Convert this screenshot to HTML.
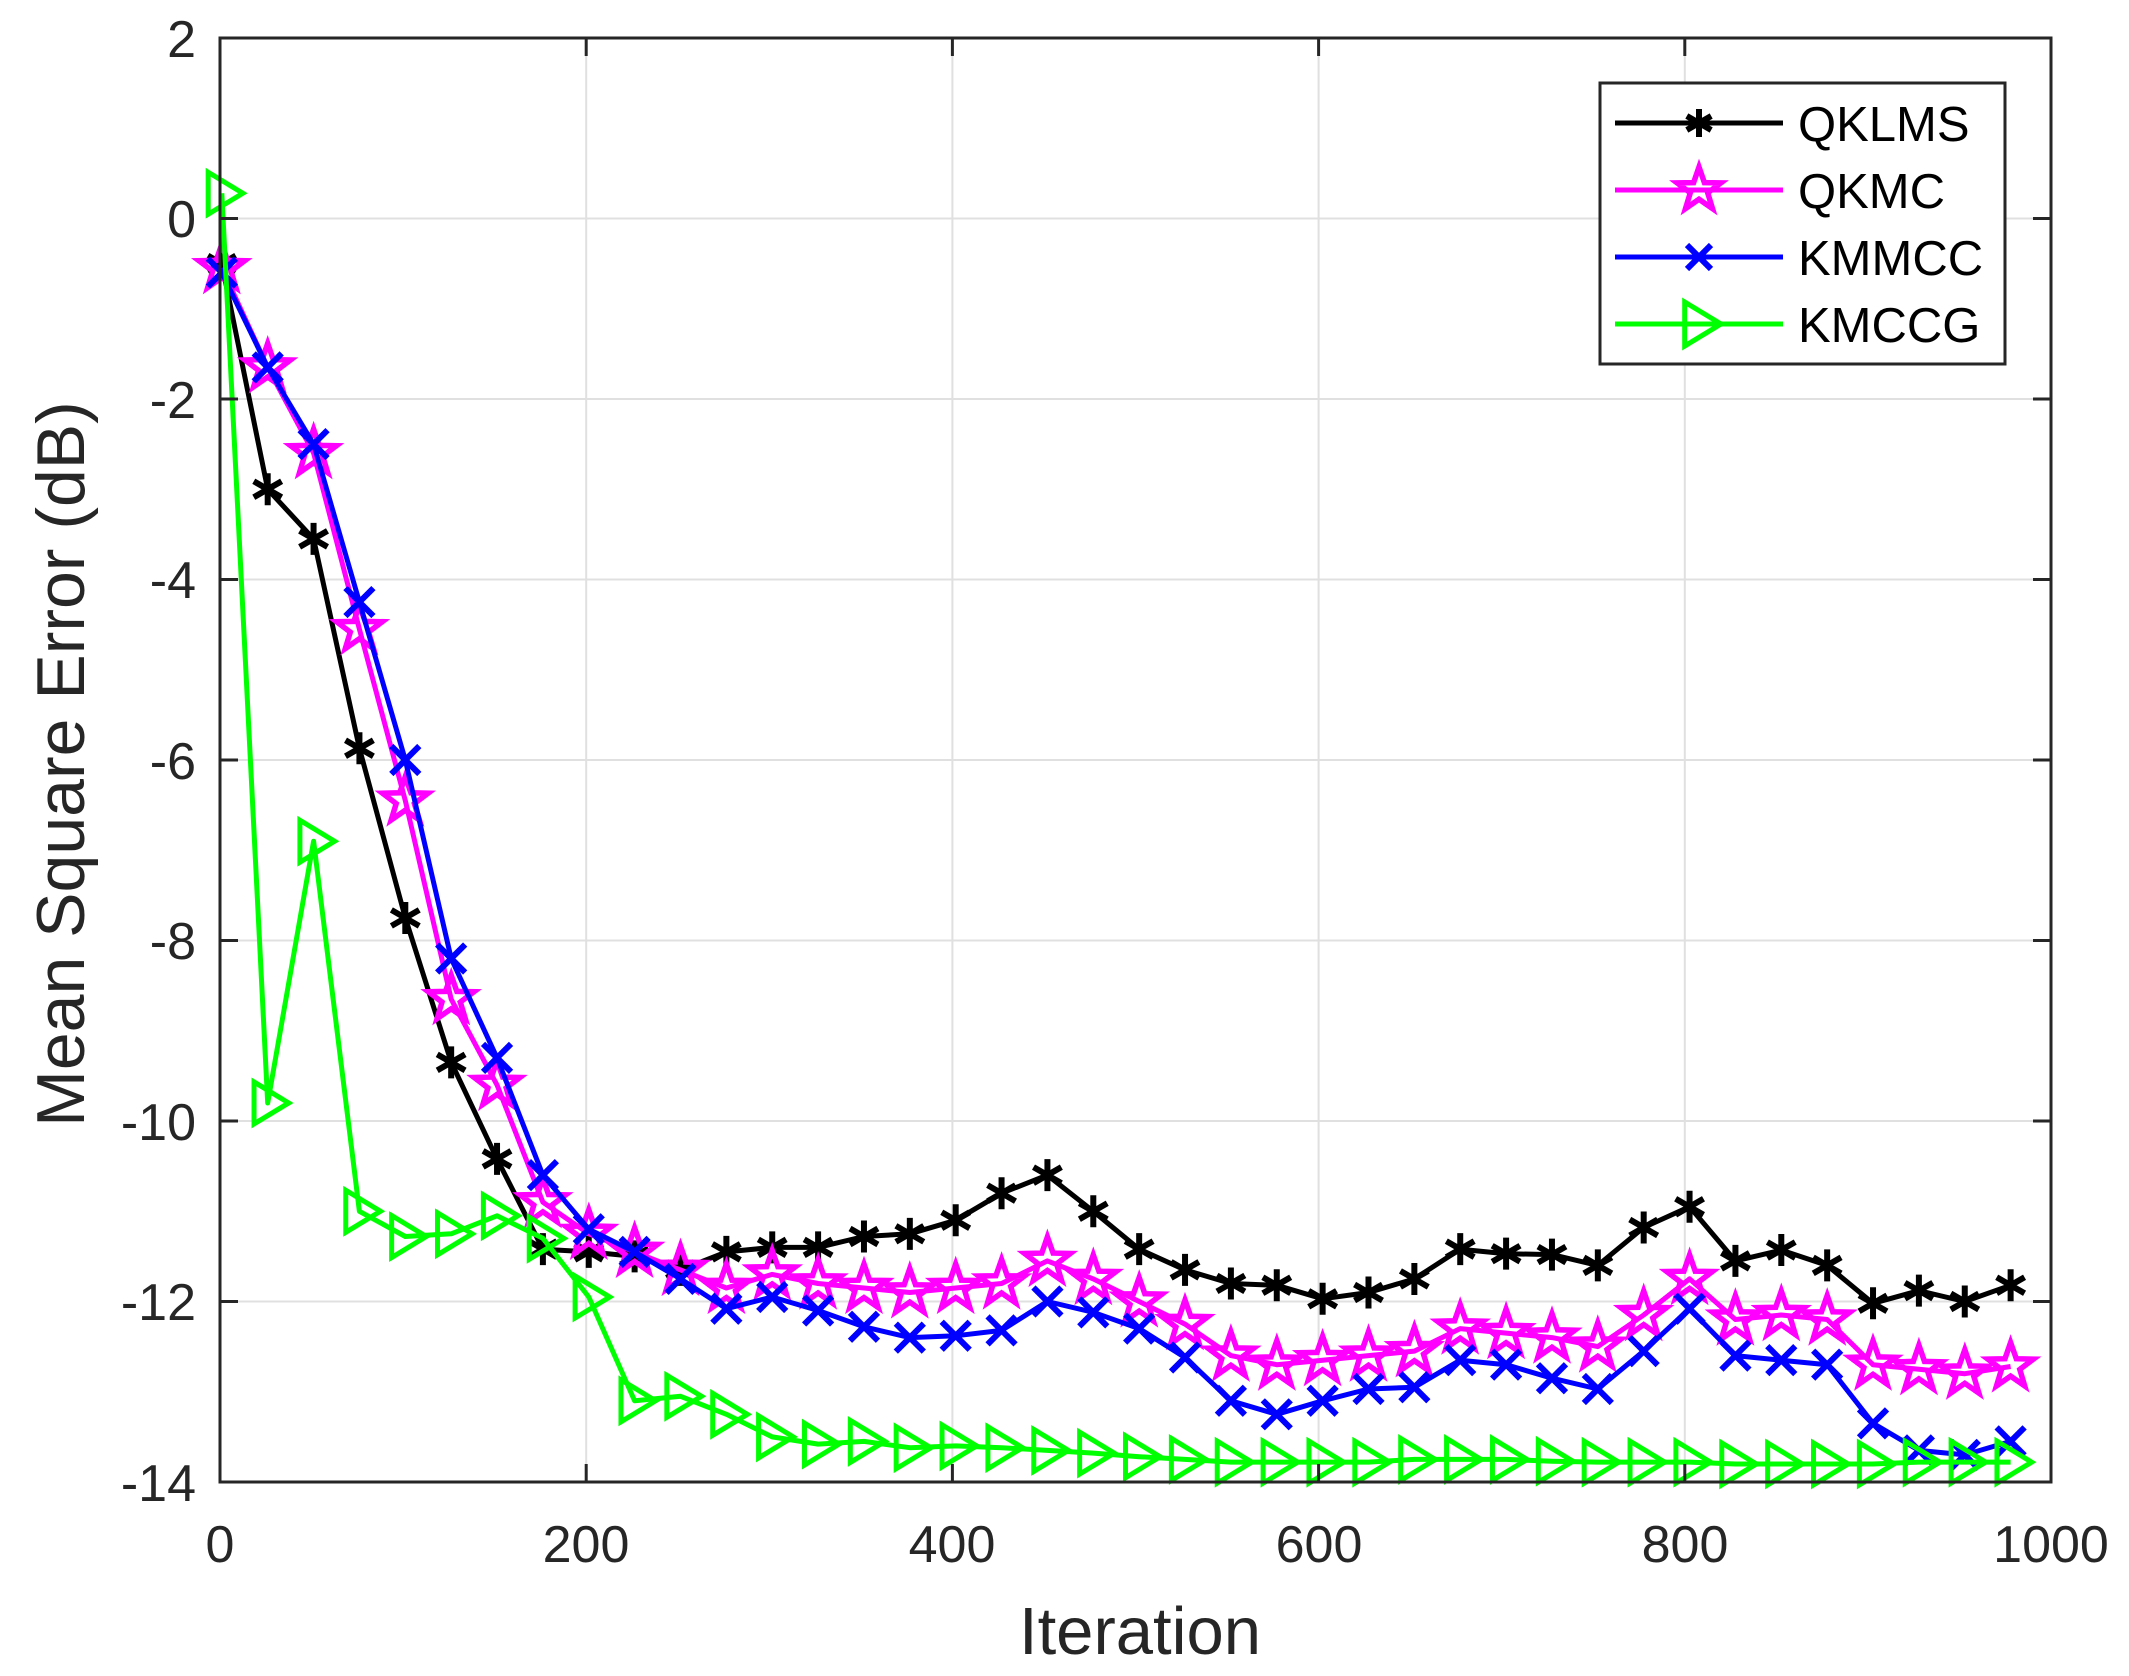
<!DOCTYPE html>
<html><head><meta charset="utf-8"><style>
html,body{margin:0;padding:0;background:#fff;}
svg{display:block;font-family:"Liberation Sans",Arial,sans-serif;}
</style></head><body>
<svg id="s" width="2129" height="1676" viewBox="0 0 2129 1676" xmlns="http://www.w3.org/2000/svg">
<rect width="2129" height="1676" fill="#fff"/>
<g id="grid" stroke="#e0e0e0" stroke-width="2"></g>
<g id="series"></g>
<rect x="220" y="38" width="1831" height="1444" fill="none" stroke="#262626" stroke-width="3"/>
<g id="ticks" stroke="#262626" stroke-width="3"></g>
<g font-size="52" fill="#262626" text-anchor="end">
<text x="196" y="57">2</text>
<text x="196" y="237">0</text>
<text x="196" y="418">-2</text>
<text x="196" y="598">-4</text>
<text x="196" y="779">-6</text>
<text x="196" y="959">-8</text>
<text x="196" y="1140">-10</text>
<text x="196" y="1320">-12</text>
<text x="196" y="1501">-14</text>
</g>
<g font-size="52" fill="#262626" text-anchor="middle">
<text x="220" y="1562">0</text>
<text x="586" y="1562">200</text>
<text x="952" y="1562">400</text>
<text x="1319" y="1562">600</text>
<text x="1685" y="1562">800</text>
<text x="2051" y="1562">1000</text>
</g>
<text x="1140" y="1654" font-size="67" fill="#262626" text-anchor="middle">Iteration</text>
<text transform="translate(84,764) rotate(-90)" font-size="68" fill="#262626" text-anchor="middle">Mean Square Error (dB)</text>
<rect x="1600" y="83" width="405" height="281" fill="#fff" stroke="#262626" stroke-width="3"/>
<g id="leg"></g>
<g font-size="49" fill="#000">
<text x="1798" y="141">QKLMS</text>
<text x="1798" y="208">QKMC</text>
<text x="1798" y="275">KMMCC</text>
<text x="1798" y="342">KMCCG</text>
</g>
</svg>
<script>
const NS="http://www.w3.org/2000/svg";
function X(v){return 220+v*1.831;}
function Y(v){return 38+(2-v)*90.25;}
function el(p,t,a){const e=document.createElementNS(NS,t);for(const k in a)e.setAttribute(k,a[k]);p.appendChild(e);return e;}
const grid=document.getElementById('grid'),ticks=document.getElementById('ticks');
for(let v=200;v<1000;v+=200){el(grid,'line',{x1:X(v),x2:X(v),y1:38,y2:1482});}
for(let v=0;v>-14;v-=2){el(grid,'line',{x1:220,x2:2051,y1:Y(v),y2:Y(v)});}
for(let v=200;v<1000;v+=200){el(ticks,'line',{x1:X(v),x2:X(v),y1:1482,y2:1464});el(ticks,'line',{x1:X(v),x2:X(v),y1:38,y2:56});}
for(let v=0;v>-14;v-=2){el(ticks,'line',{x1:220,x2:238,y1:Y(v),y2:Y(v)});el(ticks,'line',{x1:2051,x2:2033,y1:Y(v),y2:Y(v)});}
function star(g,x,y,c,R){let p=[];for(let i=0;i<10;i++){const r=i%2?R*0.4:R;const a=-Math.PI/2+i*Math.PI/5;p.push((x+r*Math.cos(a)).toFixed(1)+','+(y+r*Math.sin(a)).toFixed(1));}el(g,'polygon',{points:p.join(' '),fill:'none',stroke:c,'stroke-width':5.5});}
function ast(g,x,y,c,r){el(g,'path',{d:`M${x} ${y-r}V${y+r}M${x-r*.87} ${y-r/2}L${x+r*.87} ${y+r/2}M${x-r*.87} ${y+r/2}L${x+r*.87} ${y-r/2}`,stroke:c,'stroke-width':6});}
function cross(g,x,y,c,r){el(g,'path',{d:`M${x-r} ${y-r}L${x+r} ${y+r}M${x-r} ${y+r}L${x+r} ${y-r}`,stroke:c,'stroke-width':6});}
function tri(g,x,y,c,r){el(g,'polygon',{points:`${x-r*0.65},${y-r} ${x+r},${y} ${x-r*0.65},${y+r}`,fill:'none',stroke:c,'stroke-width':5});}
const A=[-0.5,-3.0,-3.55,-5.87,-7.75,-9.35,-10.42,-11.42,-11.45,-11.5,-11.65,-11.45,-11.4,-11.4,-11.28,-11.25,-11.1,-10.8,-10.6,-11.0,-11.42,-11.65,-11.8,-11.82,-11.97,-11.9,-11.75,-11.42,-11.47,-11.48,-11.6,-11.18,-10.95,-11.55,-11.43,-11.6,-12.02,-11.88,-12.0,-11.82];
const B=[-0.55,-1.65,-2.6,-4.55,-6.45,-8.65,-9.6,-10.9,-11.25,-11.45,-11.65,-11.85,-11.7,-11.8,-11.85,-11.9,-11.85,-11.8,-11.55,-11.75,-12.0,-12.25,-12.6,-12.7,-12.65,-12.6,-12.55,-12.3,-12.35,-12.4,-12.5,-12.15,-11.75,-12.2,-12.15,-12.2,-12.7,-12.75,-12.8,-12.72];
const C=[-0.6,-1.65,-2.5,-4.25,-6.0,-8.2,-9.3,-10.6,-11.2,-11.45,-11.75,-12.08,-11.95,-12.1,-12.28,-12.4,-12.38,-12.32,-12.0,-12.12,-12.3,-12.62,-13.1,-13.25,-13.1,-12.97,-12.95,-12.65,-12.7,-12.85,-12.97,-12.55,-12.08,-12.6,-12.65,-12.7,-13.35,-13.65,-13.7,-13.55];
const D=[0.28,-9.8,-6.9,-11.0,-11.28,-11.25,-11.05,-11.3,-11.95,-13.1,-13.05,-13.25,-13.5,-13.58,-13.55,-13.62,-13.6,-13.62,-13.65,-13.68,-13.72,-13.75,-13.78,-13.78,-13.78,-13.78,-13.75,-13.75,-13.75,-13.77,-13.78,-13.78,-13.78,-13.8,-13.8,-13.8,-13.8,-13.78,-13.78,-13.78];
const S=document.getElementById('series');
function series(d,c,mk,r){const g=el(S,'g',{});const pts=d.map((v,i)=>[X(1+25.05*i),Y(v)]);
el(g,'polyline',{points:pts.map(p=>p.map(q=>q.toFixed(1)).join(',')).join(' '),fill:'none',stroke:c,'stroke-width':5,'stroke-linejoin':'round'});
pts.forEach(p=>mk(g,p[0],p[1],c,r));}
series(A,'#000',ast,16);
series(B,'#ff00ff',star,24);
series(C,'#0000ff',cross,14);
series(D,'#00ff00',tri,21);
const L=document.getElementById('leg');
const rows=[[123,'#000',ast,14],[190,'#ff00ff',star,23],[257,'#0000ff',cross,12],[324,'#00ff00',tri,22]];
rows.forEach(r=>{el(L,'line',{x1:1615,x2:1783,y1:r[0],y2:r[0],stroke:r[1],'stroke-width':5});r[2](L,1699,r[0],r[1],r[3]);});
</script>
</body></html>
